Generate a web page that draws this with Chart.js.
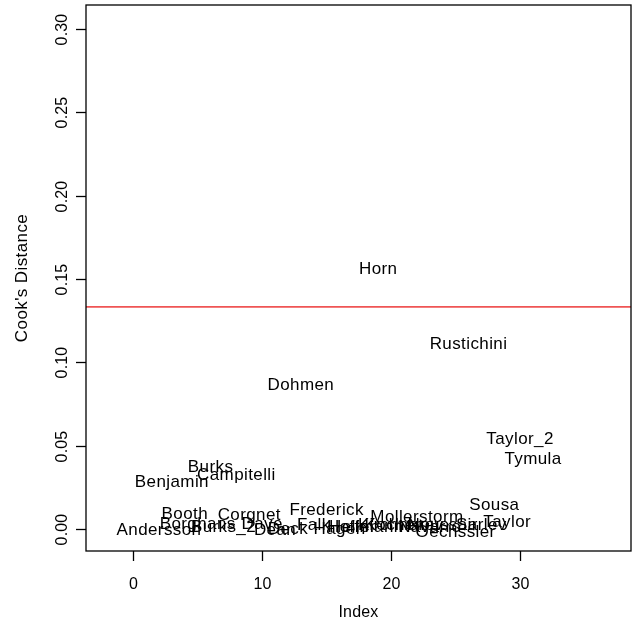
<!DOCTYPE html>
<html>
<head>
<meta charset="utf-8">
<script src="https://cdn.jsdelivr.net/npm/chart.js@4"></script>
<style>
  body { margin: 0; background: #fff; }
</style>
</head>
<body>
<canvas id="cooks" width="633" height="626"></canvas>
<script>
// study labels, plotted at their index
const estudos = ['Andersson', 'Benjamin', 'Booth', 'Borghans', 'Burks', 'Burks_2', 'Campitelli', 'Corgnet',
  'Dave', 'Dean', 'Deck', 'Dohmen', 'Falk', 'Frederick', 'Hagen', 'Heller', 'Hoffmann', 'Horn',
  'Kirchner', 'Kochenev', 'Mollerstorm', 'Navarro', 'Noussair', 'Oechssler', 'Rustichini', 'Sarlev',
  'Sousa', 'Taylor', 'Taylor_2', 'Tymula'];
const indices = [2, 3, 4, 5, 6, 7, 8, 9, 10, 11, 12, 13, 14, 15, 16, 17, 18, 19,
  20, 21, 22, 23, 24, 25, 26, 27, 28, 29, 30, 31];
const cooksD = [0.000, 0.029, 0.010, 0.004, 0.038, 0.002, 0.033, 0.009,
  0.004, 0.000, 0.001, 0.087, 0.003, 0.012, 0.001, 0.002, 0.002, 0.157,
  0.003, 0.003, 0.008, 0.002, 0.003, -0.001, 0.112, 0.003,
  0.015, 0.005, 0.055, 0.043];
const limite = 4 / estudos.length; // 4/n cut-off

const xTicks = [0, 10, 20, 30];
const yTicks = ['0.00', '0.05', '0.10', '0.15', '0.20', '0.25', '0.30'];
const xMin = -3.66, xMax = 38.6;
const yMin = -0.0132, yMax = 0.3145;

const fonte = '16px "Liberation Sans", Arial, sans-serif';
const fonteTexto = '17px "Liberation Sans", Arial, sans-serif';

// draws the R-style box, axes and text labels
const eixosR = {
  id: 'eixosR',
  afterDatasetsDraw(chart) {
    const ctx = chart.ctx;
    const area = chart.chartArea;
    const sx = chart.scales.x;
    const sy = chart.scales.y;

    ctx.save();
    ctx.fillStyle = '#000';
    ctx.textAlign = 'center';
    ctx.textBaseline = 'middle';

    // labels at each point
    ctx.font = fonteTexto;
    ctx.letterSpacing = '0.4px';
    const meta = chart.getDatasetMeta(0);
    meta.data.forEach(function (el, i) {
      ctx.fillText(estudos[i], el.x, el.y + 1.5);
    });

    // box
    ctx.strokeStyle = '#000';
    ctx.lineWidth = 1.3;
    ctx.strokeRect(area.left, area.top, area.right - area.left, area.bottom - area.top);

    // x axis
    ctx.font = fonte;
    ctx.letterSpacing = '0.2px';
    xTicks.forEach(function (v) {
      const px = Math.round(sx.getPixelForValue(v)) + 0.5;
      ctx.beginPath();
      ctx.moveTo(px, area.bottom);
      ctx.lineTo(px, area.bottom + 10);
      ctx.stroke();
      ctx.fillText(String(v), px, area.bottom + 34);
    });
    ctx.fillText('Index', (area.left + area.right) / 2, area.bottom + 62);

    // y axis, labels parallel to the axis
    yTicks.forEach(function (t) {
      const py = Math.round(sy.getPixelForValue(parseFloat(t))) + 0.5;
      ctx.beginPath();
      ctx.moveTo(area.left, py);
      ctx.lineTo(area.left - 10, py);
      ctx.stroke();
      ctx.save();
      ctx.translate(area.left - 23, py);
      ctx.rotate(-Math.PI / 2);
      ctx.fillText(t, 0, 0);
      ctx.restore();
    });
    ctx.font = fonteTexto;
    ctx.letterSpacing = '0.4px';
    ctx.save();
    ctx.translate(22, (area.top + area.bottom) / 2);
    ctx.rotate(-Math.PI / 2);
    ctx.fillText("Cook's Distance", 0, 0);
    ctx.restore();

    ctx.restore();
  }
};

document.addEventListener('DOMContentLoaded', function () {
  const pontos = indices.map(function (x, i) { return { x: x, y: cooksD[i] }; });

  new Chart(document.getElementById('cooks').getContext('2d'), {
    type: 'scatter',
    data: {
      datasets: [{
        label: 'Cook',
        data: pontos,
        pointRadius: 0,
        pointHoverRadius: 0
      }, {
        label: 'Limite',
        data: [{ x: xMin, y: limite }, { x: xMax, y: limite }],
        showLine: true,
        borderColor: '#ef5555',
        borderWidth: 1.6,
        pointRadius: 0,
        fill: false
      }]
    },
    options: {
      responsive: false,
      animation: false,
      layout: { padding: { left: 86, right: 2, top: 5, bottom: 75 } },
      plugins: { legend: { display: false }, tooltip: { enabled: false } },
      scales: {
        x: { type: 'linear', min: xMin, max: xMax, display: false },
        y: { type: 'linear', min: yMin, max: yMax, display: false }
      }
    },
    plugins: [eixosR]
  });
});
</script>
</body>
</html>
